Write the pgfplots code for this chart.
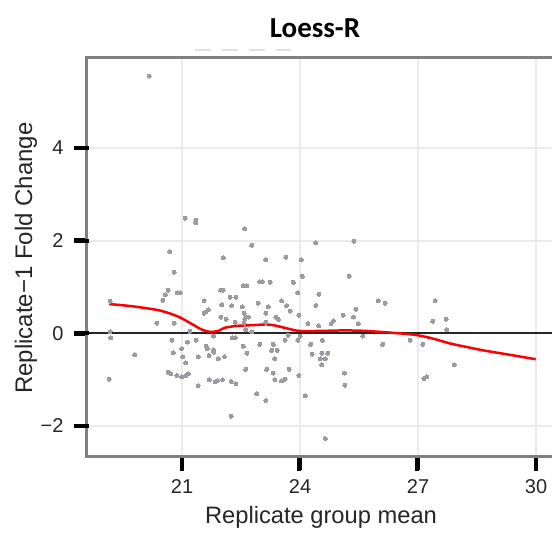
\documentclass[border=0pt]{standalone}
\usepackage{fontspec}
\setmainfont{Liberation Sans}
\newfontfamily\titlefont{Carlito}
\usepackage{pgfplots}
\pgfplotsset{compat=1.18}
\definecolor{framecol}{RGB}{128,128,128}
\definecolor{gridcol}{RGB}{235,235,235}
\definecolor{dotcol}{RGB}{155,155,162}
\begin{document}
\begin{tikzpicture}
\useasboundingbox (0,0) rectangle (552pt,535pt);
\begin{scope}
\clip (0,0) rectangle (552pt,535pt);
\begin{axis}[
  name=main,
  at={(87pt,78pt)}, anchor=south west,
  width=468pt, height=399pt, scale only axis,
  xmin=18.585, xmax=30.48, ymin=-2.67, ymax=5.94,
  xtick={21,24,27,30}, xticklabels={21,24,27,30},
  ytick={-2,0,2,4}, yticklabels={−2,0,2,4},
  tick pos=left,
  grid=major,
  major grid style={draw=gridcol, line width=2pt},
  axis line style={draw=framecol, line width=3pt},
  tick align=outside,
  major tick length=13pt,
  major tick style={draw=black, line width=4.5pt},
  ticklabel style={font=\fontsize{20}{24}\selectfont, text=black!85},
  xticklabel style={yshift=-6pt},
  yticklabel style={xshift=-7pt},
]
\addplot[black!85, line width=2pt] coordinates {(18.585,0) (30.48,0)};
\addplot[only marks, color=dotcol, mark=*, mark size=2pt, mark options={draw=dotcol, fill=dotcol, line width=0pt}] table {
x y
20.17 5.55
21.08 2.48
21.35 2.44
21.35 2.38
20.69 1.76
20.80 1.32
22.05 1.63
20.65 0.93
20.57 0.83
20.51 0.71
20.88 0.87
20.95 0.87
19.17 0.69
21.56 0.70
21.98 0.93
22.05 0.93
22.01 0.62
21.67 0.51
21.61 0.46
21.56 0.43
21.99 0.35
22.12 0.30
20.36 0.22
20.80 0.22
19.17 0.03
19.19 -0.10
21.20 0.04
20.74 -0.15
21.14 -0.19
21.36 -0.15
20.99 -0.33
21.61 -0.28
21.64 -0.33
21.80 -0.36
21.81 -0.41
20.78 -0.42
19.80 -0.46
21.02 -0.51
21.10 -0.64
21.41 -0.51
21.69 -0.48
21.92 -0.55
22.08 -0.50
20.65 -0.84
20.71 -0.87
20.87 -0.91
20.99 -0.94
21.10 -0.91
21.16 -0.87
19.15 -0.99
21.41 -1.13
21.69 -1.00
21.84 -1.05
21.90 -1.02
22.03 -1.00
21.80 -0.06
22.60 2.25
24.40 1.95
22.77 1.90
23.13 1.59
23.64 1.64
24.03 1.59
24.06 1.23
25.25 1.23
22.56 1.02
22.65 1.02
22.98 1.11
23.04 1.11
23.24 1.10
23.83 1.10
22.22 0.78
22.37 0.78
23.94 0.87
24.48 0.84
22.26 0.60
22.53 0.57
22.94 0.65
23.19 0.57
23.53 0.70
23.66 0.60
23.75 0.48
24.40 0.60
22.58 0.43
22.62 0.35
22.69 0.35
23.13 0.43
23.38 0.35
23.45 0.30
23.97 0.39
25.10 0.39
22.35 0.24
22.60 0.30
22.58 0.22
23.13 0.24
24.20 0.21
24.47 0.16
24.79 0.21
24.85 0.27
22.62 0.08
22.77 0.03
22.28 -0.10
22.35 -0.10
23.70 -0.04
23.62 -0.15
23.94 -0.15
24.00 -0.06
22.98 -0.24
23.32 -0.24
22.56 -0.28
22.65 -0.43
23.28 -0.37
23.42 -0.37
23.36 -0.55
24.27 -0.24
24.57 -0.15
24.31 -0.45
24.55 -0.43
24.70 -0.43
24.51 -0.55
24.64 -0.55
24.55 -0.68
22.62 -0.78
23.15 -0.78
23.32 -0.86
23.72 -0.78
23.36 -1.00
23.53 -1.03
23.62 -0.99
23.97 -0.91
25.13 -0.86
25.14 -1.12
22.25 -1.04
22.37 -1.09
22.90 -1.30
23.13 -1.45
24.13 -1.35
22.25 -1.79
24.64 -2.27
25.37 1.99
25.99 0.70
26.16 0.65
27.43 0.70
25.42 0.52
25.36 0.35
25.48 0.21
27.37 0.26
27.71 0.30
27.73 0.08
25.59 -0.06
26.10 -0.24
26.80 -0.15
27.12 -0.24
27.92 -0.68
27.15 -0.98
27.22 -0.94
};
\addplot[red, line width=2.5pt, smooth] coordinates {
(19.15,0.63) (19.76,0.58) (20.44,0.49) (20.9,0.36) (21.25,0.20) (21.5,0.08)
(21.71,0.03) (21.92,0.05) (22.09,0.12) (22.4,0.16) (22.65,0.17) (22.9,0.18)
(23.15,0.19) (23.35,0.17) (23.55,0.13) (23.79,0.08) (24.0,0.05) (24.5,0.05)
(25.0,0.06) (25.3,0.06) (25.7,0.05) (26.03,0.03) (26.5,0.0) (26.97,-0.04)
(27.4,-0.12) (27.81,-0.22) (28.2,-0.29) (28.66,-0.37) (29.3,-0.46) (29.99,-0.56)
};
\end{axis}
\end{scope}
% tick marks (axis decoration)
\foreach \xx in {182,299.3,417.3,535.7} {\draw[black, line width=4.3pt] (\xx pt,76.5pt) -- (\xx pt,63.5pt);}
\foreach \yy in {387,294.3,202,109.3} {\draw[black, line width=4.3pt] (88.5pt,\yy pt) -- (74pt,\yy pt);}
\node[font=\titlefont\bfseries\fontsize{29}{34}\selectfont, anchor=base] at (315pt,497pt) {Loess-R};
\node[font=\fontsize{23.7}{28}\selectfont, anchor=base, text=black!85] at (321pt,11pt) {Replicate group mean};
\node[font=\fontsize{24}{28}\selectfont, rotate=90, anchor=base, text=black!85] at (32pt,277pt) {Replicate−1 Fold Change};
\draw[gray!25, line width=2pt, dash pattern=on 16pt off 11pt] (195pt,485pt) -- (291pt,485pt);
\end{tikzpicture}
\end{document}
